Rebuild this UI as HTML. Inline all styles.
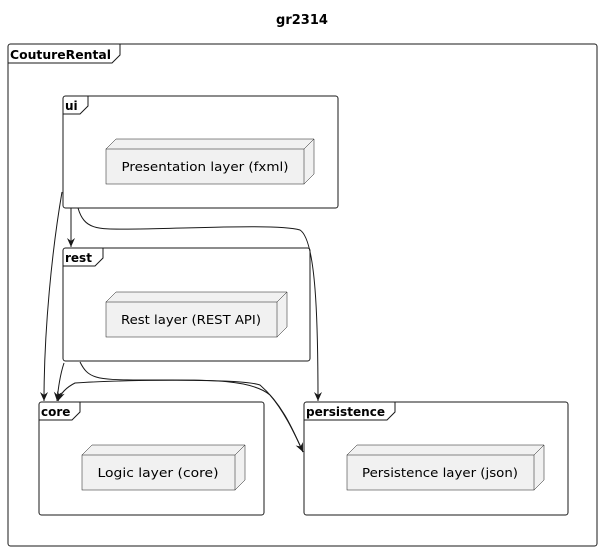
<!DOCTYPE html>
<html><head><style>
html,body{margin:0;padding:0;background:#fff;}
svg{display:block;font-family:"DejaVu Sans",sans-serif;}
</style></head><body>
<svg width="605" height="552" viewBox="0 0 605 552" xmlns="http://www.w3.org/2000/svg">
<defs>
<marker id="a" markerWidth="10" markerHeight="10" refX="9" refY="5" orient="auto" markerUnits="userSpaceOnUse">
<path d="M0,1 L9,5 L0,9 L3,5 Z" fill="#181818"/>
</marker>
</defs>
<text x="302" y="24" font-size="13" font-weight="bold" text-anchor="middle" fill="#000">gr2314</text>

<rect x="8" y="44" width="589" height="502" rx="2.5" fill="none" stroke="#181818" stroke-width="1"/>
<path d="M8,63 H112 L120,55 V44" fill="none" stroke="#181818"/>
<text x="10" y="59" font-size="12" font-weight="bold" textLength="101" lengthAdjust="spacingAndGlyphs">CoutureRental</text>

<rect x="63" y="96" width="275" height="112" rx="2.5" fill="#fff" stroke="#181818"/>
<path d="M63,114 H80 L88,106 V96" fill="none" stroke="#181818"/>
<text x="65" y="110" font-size="12" font-weight="bold">ui</text>
<path d="M106,149 L116,139 H314 V174 L304,184" fill="#f1f1f1" stroke="#181818" stroke-width="0.5"/>
<path d="M304,149 L314,139" stroke="#181818" stroke-width="0.5"/>
<rect x="106" y="149" width="198" height="35" fill="#f1f1f1" stroke="#181818" stroke-width="0.5"/>
<text x="205" y="171" font-size="12.5" text-anchor="middle" textLength="167" lengthAdjust="spacingAndGlyphs">Presentation layer (fxml)</text>

<rect x="63" y="248" width="247" height="113" rx="2.5" fill="#fff" stroke="#181818"/>
<path d="M63,266 H95 L103,258 V248" fill="none" stroke="#181818"/>
<text x="65" y="262" font-size="12" font-weight="bold">rest</text>
<path d="M106,302 L116,292 H287 V327 L277,337" fill="#f1f1f1" stroke="#181818" stroke-width="0.5"/>
<path d="M277,302 L287,292" stroke="#181818" stroke-width="0.5"/>
<rect x="106" y="302" width="171" height="35" fill="#f1f1f1" stroke="#181818" stroke-width="0.5"/>
<text x="191" y="324" font-size="12.5" text-anchor="middle" textLength="140" lengthAdjust="spacingAndGlyphs">Rest layer (REST API)</text>

<rect x="39" y="402" width="225" height="113" rx="2.5" fill="#fff" stroke="#181818"/>
<path d="M39,420 H72 L80,412 V402" fill="none" stroke="#181818"/>
<text x="41" y="416" font-size="12" font-weight="bold">core</text>
<path d="M82,455 L92,445 H245 V480 L235,490" fill="#f1f1f1" stroke="#181818" stroke-width="0.5"/>
<path d="M235,455 L245,445" stroke="#181818" stroke-width="0.5"/>
<rect x="82" y="455" width="153" height="35" fill="#f1f1f1" stroke="#181818" stroke-width="0.5"/>
<text x="158" y="477" font-size="12.5" text-anchor="middle" textLength="121" lengthAdjust="spacingAndGlyphs">Logic layer (core)</text>

<rect x="304" y="402" width="264" height="113" rx="2.5" fill="#fff" stroke="#181818"/>
<path d="M304,420 H387 L395,412 V402" fill="none" stroke="#181818"/>
<text x="306" y="416" font-size="12" font-weight="bold" textLength="79" lengthAdjust="spacingAndGlyphs">persistence</text>
<path d="M347,455 L357,445 H544 V480 L534,490" fill="#f1f1f1" stroke="#181818" stroke-width="0.5"/>
<path d="M534,455 L544,445" stroke="#181818" stroke-width="0.5"/>
<rect x="347" y="455" width="187" height="35" fill="#f1f1f1" stroke="#181818" stroke-width="0.5"/>
<text x="440" y="477" font-size="12.5" text-anchor="middle" textLength="156" lengthAdjust="spacingAndGlyphs">Persistence layer (json)</text>

<g fill="none" stroke="#181818" stroke-width="1">
<path d="M71,208 V247" marker-end="url(#a)"/>
<path d="M62,192 C52,250 44,330 44,401" marker-end="url(#a)"/>
<path d="M64,363 C60,375 58,390 57,401" marker-end="url(#a)"/>
<path d="M78,208 C85,232 100,229 140,229 C200,228 280,224 300,230 C316,240 318,320 318,401" marker-end="url(#a)"/>
<path d="M80,362 C88,378 95,380 140,380 C200,380 250,378 270,395 C283,410 293,430 303,452" marker-end="url(#a)"/>
<path d="M303,452 C293,430 283,405 260,385 C240,378 120,380 75,383 C65,388 60,395 58,401" marker-end="url(#a)"/>
</g>
</svg>
</body></html>
